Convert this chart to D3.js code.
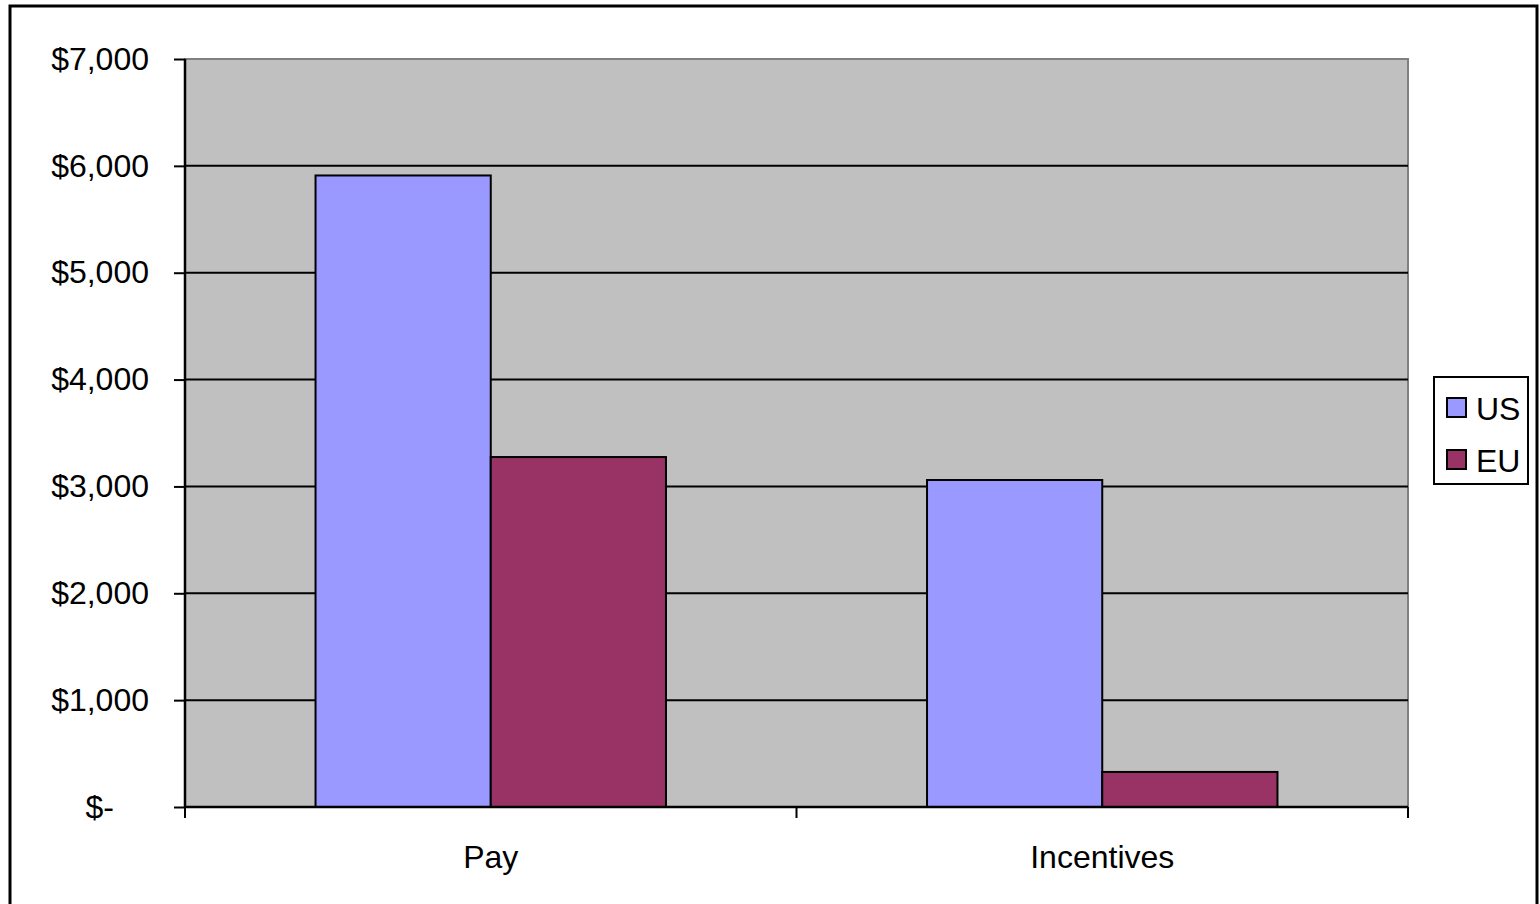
<!DOCTYPE html>
<html>
<head>
<meta charset="utf-8">
<script src="https://cdn.jsdelivr.net/npm/d3@7"></script>
<style>
  body { margin: 0; background: #fff; }
  svg { display: block; font-family: "Liberation Sans", Arial, sans-serif; }
</style>
</head>
<body>
<div id="chart"></div>
<script>
// data
const categories = ["Pay", "Incentives"];
const series = ["US", "EU"];
const usValues = [5910, 3060];
const euValues = [3275, 328];
const yTicks = [0, 1000, 2000, 3000, 4000, 5000, 6000, 7000];
const yTickLabels = ["$-", "$1,000", "$2,000", "$3,000", "$4,000", "$5,000", "$6,000", "$7,000"];
const colors = ["#9999ff", "#993366"];

const W = 1540, H = 904;
const plot = { left: 185, right: 1408, top: 59, bottom: 807 };
const FONT = 32;

const svg = d3.select("#chart").append("svg")
    .attr("width", W)
    .attr("height", H);

// outer chart border
svg.append("rect")
    .attr("x", 10).attr("y", 6)
    .attr("width", 1527).attr("height", 910)
    .attr("fill", "#fff")
    .attr("stroke", "#000")
    .attr("stroke-width", 3);

const y = d3.scaleLinear().domain([0, 7000]).range([plot.bottom, plot.top]);
const x0 = d3.scaleBand().domain(categories).range([plot.left, plot.right]).padding(0);
const x1 = d3.scaleBand().domain(series).range([0, x0.bandwidth()]).paddingInner(0).paddingOuter(0.745);

// plot background
svg.append("rect")
    .attr("x", plot.left).attr("y", plot.top)
    .attr("width", plot.right - plot.left).attr("height", plot.bottom - plot.top)
    .attr("fill", "#c0c0c0")
    .attr("stroke", "#808080")
    .attr("stroke-width", 2);

// gridlines
svg.append("g")
    .selectAll("line")
    .data(yTicks.filter(d => d > 0 && d < 7000))
    .enter().append("line")
    .attr("x1", plot.left).attr("x2", plot.right)
    .attr("y1", d => y(d)).attr("y2", d => y(d))
    .attr("stroke", "#000")
    .attr("stroke-width", 2);

// bars
const rows = categories.map((c, i) => ({ cat: c, vals: [usValues[i], euValues[i]] }));
const groups = svg.append("g")
    .selectAll("g")
    .data(rows)
    .enter().append("g")
    .attr("transform", d => `translate(${x0(d.cat)},0)`);

groups.selectAll("rect")
    .data(d => d.vals.map((v, j) => ({ s: series[j], v: v, c: colors[j] })))
    .enter().append("rect")
    .attr("x", d => x1(d.s))
    .attr("width", x1.bandwidth())
    .attr("y", d => y(d.v))
    .attr("height", d => y(0) - y(d.v))
    .attr("fill", d => d.c)
    .attr("stroke", "#000")
    .attr("stroke-width", 2);

// y axis
const yAxis = d3.axisLeft(y)
    .tickValues(yTicks)
    .tickSize(11)
    .tickPadding(25)
    .tickFormat((d, i) => yTickLabels[i]);

svg.append("g")
    .attr("transform", `translate(${plot.left},0)`)
    .call(yAxis)
    .call(g => g.select(".domain").attr("stroke-width", 2.5).attr("d", `M0,${plot.top}V${plot.bottom}`))
    .call(g => g.selectAll(".tick line").attr("stroke-width", 2))
    .call(g => g.selectAll("text").attr("font-size", FONT).attr("fill", "#000").attr("font-family", "Liberation Sans, Arial, sans-serif"))
    // accounting style zero: dash sits under the units column
    .call(g => g.selectAll(".tick").filter(d => d === 0).select("text").attr("dx", -35));

// x axis
const xAxis = d3.axisBottom(x0).tickSize(0).tickPadding(38);
const xg = svg.append("g")
    .attr("transform", `translate(0,${plot.bottom})`)
    .call(xAxis)
    .call(g => g.select(".domain").attr("stroke-width", 2.5).attr("d", `M${plot.left},0H${plot.right}`))
    .call(g => g.selectAll("text").attr("font-size", FONT).attr("fill", "#000").attr("font-family", "Liberation Sans, Arial, sans-serif"));

// x tick marks at category boundaries
xg.selectAll(".bound")
    .data([plot.left, x0("Incentives"), plot.right])
    .enter().append("line")
    .attr("x1", d => d).attr("x2", d => d)
    .attr("y1", 0).attr("y2", 11)
    .attr("stroke", "#000")
    .attr("stroke-width", 2);

// legend
const legend = svg.append("g").attr("transform", "translate(1434,377)");
legend.append("rect")
    .attr("width", 94).attr("height", 107)
    .attr("fill", "#fff")
    .attr("stroke", "#000")
    .attr("stroke-width", 2);

const item = legend.selectAll(".item")
    .data(series)
    .enter().append("g")
    .attr("transform", (d, i) => `translate(13,${21 + i * 52})`);

item.append("rect")
    .attr("width", 19).attr("height", 19)
    .attr("fill", (d, i) => colors[i])
    .attr("stroke", "#000")
    .attr("stroke-width", 2);

item.append("text")
    .attr("x", 29).attr("y", 10)
    .attr("dy", "0.36em")
    .attr("font-size", FONT)
    .text(d => d);
</script>
</body>
</html>
